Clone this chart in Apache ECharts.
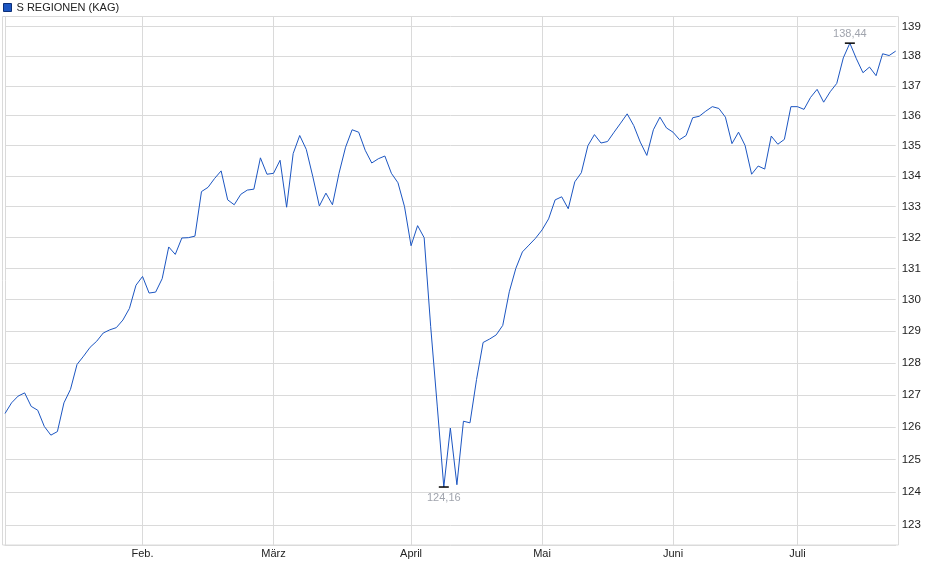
<!DOCTYPE html>
<html>
<head>
<meta charset="utf-8">
<script src="https://cdn.jsdelivr.net/npm/echarts@6/dist/echarts.min.js"></script>
<style>
html,body{margin:0;padding:0;background:#fff;}
#c{width:940px;height:579px;}
</style>
</head>
<body>
<div id="c"></div>
<script>
const seriesName = 'S REGIONEN (KAG)';

const dates = [
 '03.01.','06.01.','07.01.','08.01.','09.01.','10.01.','13.01.','14.01.','15.01.','16.01.','17.01.','20.01.','21.01.','22.01.','23.01.','24.01.','27.01.','28.01.','29.01.','30.01.','31.01.',
 '03.02.','04.02.','05.02.','06.02.','07.02.','10.02.','11.02.','12.02.','13.02.','14.02.','17.02.','18.02.','19.02.','20.02.','21.02.','24.02.','25.02.','26.02.','27.02.','28.02.',
 '03.03.','04.03.','05.03.','06.03.','07.03.','10.03.','11.03.','12.03.','13.03.','14.03.','17.03.','18.03.','19.03.','20.03.','21.03.','24.03.','25.03.','26.03.','27.03.','28.03.','31.03.',
 '01.04.','02.04.','03.04.','04.04.','07.04.','08.04.','09.04.','10.04.','11.04.','14.04.','15.04.','16.04.','17.04.','22.04.','23.04.','24.04.','25.04.','28.04.','29.04.','30.04.',
 '02.05.','05.05.','06.05.','07.05.','08.05.','09.05.','12.05.','13.05.','14.05.','15.05.','16.05.','19.05.','20.05.','21.05.','22.05.','23.05.','26.05.','27.05.','28.05.','30.05.',
 '02.06.','03.06.','04.06.','05.06.','06.06.','10.06.','11.06.','12.06.','13.06.','16.06.','17.06.','18.06.','20.06.','23.06.','24.06.','25.06.','26.06.','27.06.','30.06.',
 '01.07.','02.07.','03.07.','04.07.','07.07.','08.07.','09.07.','10.07.','11.07.','14.07.','15.07.','16.07.','17.07.','18.07.','21.07.','22.07.'
];

const values = [
 126.42,126.75,126.96,127.06,126.64,126.52,126.02,125.75,125.86,126.75,127.17,127.95,128.21,128.49,128.68,128.94,129.04,129.11,129.35,129.72,130.46,
 130.74,130.21,130.24,130.67,131.69,131.45,131.98,131.99,132.04,133.49,133.63,133.92,134.17,133.22,133.06,133.40,133.54,133.57,134.60,134.06,
 134.09,134.52,132.98,134.74,135.34,134.88,133.98,133.02,133.44,133.06,134.09,134.95,135.53,135.45,134.85,134.43,134.57,134.66,134.09,133.78,133.00,
 131.73,132.38,131.99,129.14,126.65,124.16,125.97,124.23,126.18,126.13,127.48,128.64,128.75,128.88,129.18,130.25,131.00,131.53,131.75,131.97,
 132.24,132.60,133.22,133.32,132.93,133.81,134.11,135.00,135.37,135.09,135.14,135.45,135.75,136.06,135.67,135.12,134.68,135.53,135.95,135.59,
 135.45,135.20,135.34,135.93,135.98,136.15,136.30,136.24,135.95,135.07,135.45,135.01,134.06,134.33,134.23,135.32,135.05,135.21,136.30,
 136.30,136.21,136.61,136.88,136.45,136.80,137.08,137.94,138.44,137.91,137.44,137.63,137.34,138.08,138.02,138.17
];

const monthNames = ['Jan.','Feb.','März','April','Mai','Juni','Juli'];
const yTicks = [123,124,125,126,127,128,129,130,131,132,133,134,135,136,137,138,139];

const fontFam = '"Liberation Sans", Arial, sans-serif';
const lineColor = '#1c56c2';
const gridColor = '#dadada';

function isMonthStart(i) {
  return i > 0 && dates[i].slice(3) !== dates[i - 1].slice(3);
}

const chart = echarts.init(document.getElementById('c'), null, {renderer: 'canvas'});
chart.setOption({
  animation: false,
  backgroundColor: '#fff',
  textStyle: {fontFamily: fontFam},
  legend: {
    left: 3, top: 2, padding: 0,
    icon: 'rect', itemWidth: 8, itemHeight: 8, itemGap: 5,
    textStyle: {fontSize: 11, color: '#222', fontFamily: fontFam},
    data: [{name: seriesName, itemStyle: {color: lineColor, borderColor: '#0d2f78', borderWidth: 1}}]
  },
  graphic: [{
    type: 'rect', silent: true, z: 0,
    shape: {x: 2.5, y: 16.5, width: 896, height: 528.5},
    style: {fill: null, stroke: gridColor, lineWidth: 1}
  }],
  grid: {left: 5, right: 44.3, top: 16, bottom: 34, containLabel: false},
  xAxis: {
    type: 'category',
    data: dates,
    boundaryGap: false,
    axisLine: {show: true, lineStyle: {color: gridColor}},
    axisTick: {show: false},
    axisLabel: {
      interval: (i) => isMonthStart(i),
      formatter: (v) => monthNames[parseInt(v.slice(3, 5), 10) - 1],
      color: '#222', fontSize: 11, margin: 3, fontFamily: fontFam
    },
    splitLine: {show: true, interval: (i) => i === 0 || isMonthStart(i), lineStyle: {color: gridColor, width: 1}}
  },
  yAxis: {
    type: 'log',
    logBase: 10,
    position: 'right',
    min: 122.407,
    max: 139.365,
    axisLine: {show: false},
    axisTick: {show: false, customValues: yTicks},
    axisLabel: {
      customValues: yTicks,
      formatter: (v) => String(Math.round(v)),
      color: '#222', fontSize: 11.5, margin: 6, fontFamily: fontFam
    },
    splitLine: {show: true, lineStyle: {color: gridColor, width: 1}}
  },
  series: [{
    name: seriesName,
    type: 'line',
    data: values,
    showSymbol: false,
    symbol: 'none',
    color: lineColor,
    lineStyle: {color: lineColor, width: 1},
    markPoint: {
      symbol: 'rect',
      symbolSize: [10, 1.5],
      itemStyle: {color: '#000'},
      label: {
        show: true, color: '#a0a4ad', fontSize: 11, fontFamily: fontFam,
        formatter: (p) => p.value.toFixed(2).replace('.', ',')
      },
      data: [
        {type: 'max', label: {position: 'top', distance: 3}},
        {type: 'min', label: {position: 'bottom', distance: 5}}
      ]
    }
  }]
});
</script>
</body>
</html>
